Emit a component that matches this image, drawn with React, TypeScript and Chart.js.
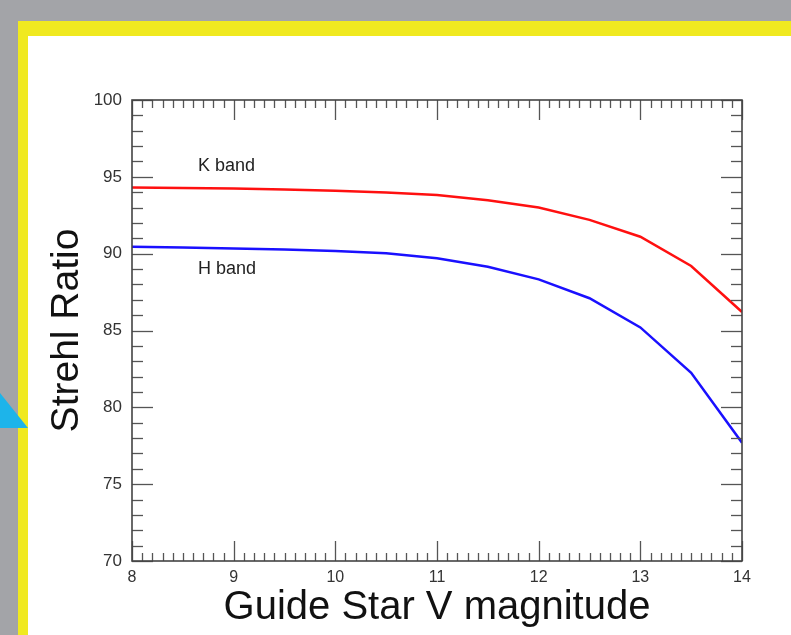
import React, { useEffect, useRef } from "react";
import { Chart, registerables } from "chart.js";
Chart.register(...registerables);

const magnitudes = [8, 8.5, 9, 9.5, 10, 10.5, 11, 11.5, 12, 12.5, 13, 13.5, 14];
const kBand = [94.3, 94.28, 94.24, 94.18, 94.1, 93.98, 93.82, 93.47, 93.0, 92.2, 91.1, 89.2, 86.2];
const hBand = [90.45, 90.4, 90.34, 90.27, 90.17, 90.02, 89.7, 89.15, 88.33, 87.1, 85.2, 82.25, 77.7];
const xTicks = [8, 9, 10, 11, 12, 13, 14];
const yTicks = [70, 75, 80, 85, 90, 95, 100];
const bandLabels = ["K band", "H band"];
const bandLabelX = [8.65, 8.65];
const bandLabelY = [95.38, 88.68];

const FONT = "'Liberation Sans', Arial, Helvetica, sans-serif";

const framePlugin = {
  id: "frame",
  beforeDraw(chart: any) {
    const { ctx, width, height } = chart;
    ctx.save();
    ctx.fillStyle = "#a3a4a8";
    ctx.fillRect(0, 0, width, height);
    ctx.fillStyle = "#f0e920";
    ctx.fillRect(18, 21, width - 18, height - 21);
    ctx.fillStyle = "#ffffff";
    ctx.fillRect(28, 36, width - 28, height - 36);
    ctx.fillStyle = "#1db4ea";
    ctx.beginPath();
    ctx.moveTo(0, 393);
    ctx.lineTo(28, 428);
    ctx.lineTo(0, 428);
    ctx.closePath();
    ctx.fill();
    ctx.restore();
  },
  afterDraw(chart: any) {
    const { ctx, chartArea: a, scales } = chart;
    const x = scales.x;
    const y = scales.y;
    ctx.save();
    ctx.strokeStyle = "#555";
    ctx.lineWidth = 1.3;
    const seg = (x1: number, y1: number, x2: number, y2: number) => {
      ctx.beginPath();
      ctx.moveTo(x1, y1);
      ctx.lineTo(x2, y2);
      ctx.stroke();
    };
    for (let i = 0; i <= 60; i++) {
      const v = xTicks[0] + i / 10;
      const px = Math.round(x.getPixelForValue(v)) + 0.5;
      const len = i % 10 === 0 ? 20 : 8;
      seg(px, a.bottom, px, a.bottom - len);
      seg(px, a.top, px, a.top + len);
    }
    for (let i = 0; i <= 30; i++) {
      const v = yTicks[0] + i;
      const py = Math.round(y.getPixelForValue(v)) + 0.5;
      const len = i % 5 === 0 ? 21 : 11;
      seg(a.left, py, a.left + len, py);
      seg(a.right, py, a.right - len, py);
    }
    ctx.strokeStyle = "#444";
    ctx.lineWidth = 1.6;
    ctx.strokeRect(a.left, a.top, a.right - a.left, a.bottom - a.top);
    ctx.fillStyle = "#222";
    ctx.font = `18px ${FONT}`;
    ctx.textAlign = "left";
    ctx.textBaseline = "alphabetic";
    bandLabels.forEach((t, i) => {
      ctx.fillText(t, x.getPixelForValue(bandLabelX[i]), y.getPixelForValue(bandLabelY[i]));
    });
    ctx.restore();
  },
};

export default function App() {
  const ref = useRef<HTMLCanvasElement>(null);
  useEffect(() => {
    const chart = new Chart(ref.current!, {
      type: "line",
      data: {
        datasets: [
          {
            label: "K band",
            data: magnitudes.map((m, i) => ({ x: m, y: kBand[i] })),
            borderColor: "#ff1010",
            borderWidth: 2.5,
            pointRadius: 0,
            tension: 0,
          },
          {
            label: "H band",
            data: magnitudes.map((m, i) => ({ x: m, y: hBand[i] })),
            borderColor: "#1a10ff",
            borderWidth: 2.5,
            pointRadius: 0,
            tension: 0,
          },
        ],
      },
      options: {
        animation: false,
        responsive: false,
        devicePixelRatio: 1,
        layout: { padding: { left: 0, top: 100, right: 49, bottom: 0 } },
        plugins: { legend: { display: false }, tooltip: { enabled: false } },
        scales: {
          x: {
            type: "linear",
            min: 8,
            max: 14,
            afterBuildTicks: (s: any) => {
              s.ticks = xTicks.map((v) => ({ value: v }));
            },
            afterFit: (s: any) => {
              s.height = 74;
            },
            grid: { display: false, drawTicks: false },
            border: { display: false },
            ticks: {
              padding: 7,
              color: "#333",
              font: { family: FONT, size: 16 },
              maxRotation: 0,
              autoSkip: false,
            },
            title: {
              display: true,
              text: "Guide Star V magnitude",
              color: "#111",
              font: { family: FONT, size: 40 },
              padding: { top: 0, bottom: 3 },
            },
          },
          y: {
            type: "linear",
            min: 70,
            max: 100,
            afterBuildTicks: (s: any) => {
              s.ticks = yTicks.map((v) => ({ value: v }));
            },
            afterFit: (s: any) => {
              s.width = 132;
            },
            grid: { display: false, drawTicks: false },
            border: { display: false },
            ticks: {
              padding: 10,
              color: "#333",
              font: { family: FONT, size: 17 },
              autoSkip: false,
            },
            title: {
              display: true,
              text: "Strehl Ratio",
              color: "#111",
              font: { family: FONT, size: 39 },
              padding: { top: 44, bottom: 0 },
            },
          },
        },
      },
      plugins: [framePlugin],
    });
    return () => chart.destroy();
  }, []);
  return (
    <div style={{ position: "fixed", left: 0, top: 0, width: 791, height: 635 }}>
      <canvas ref={ref} width={791} height={635} style={{ display: "block" }} />
    </div>
  );
}
